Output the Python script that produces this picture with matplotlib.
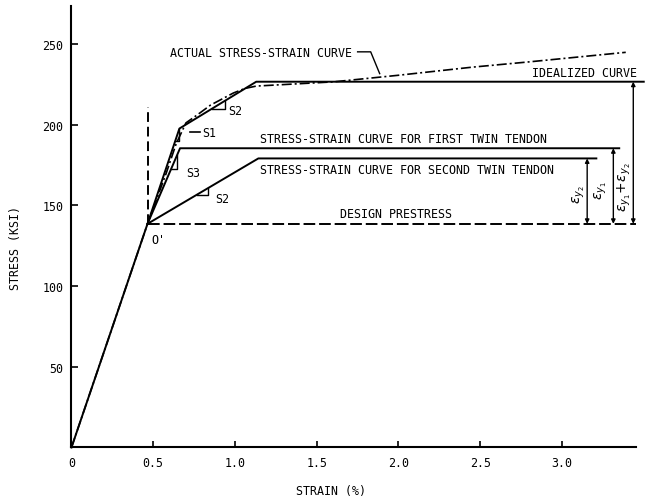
import matplotlib
matplotlib.use("Agg")
import matplotlib.pyplot as plt

# -----------------------------------------
# Data (strain in %, stress in ksi)
# -----------------------------------------

ideal_strain = [0.0, 0.465, 0.66, 1.13, 3.50]
ideal_stress = [0.0, 138.5, 197.5, 226.5, 226.5]

actual_strain = [0.0, 0.465, 0.58, 0.64, 0.70, 0.77, 0.85, 0.99, 1.06, 1.13, 1.40, 1.60, 2.00, 2.45, 2.80, 3.39]
actual_stress = [0.0, 138.5, 170.0, 188.0, 201.0, 206.0, 212.0, 219.5, 222.3, 223.8, 225.3, 226.4, 230.5, 235.5, 238.8, 244.7]

twin1_strain = [0.465, 0.664, 3.35]
twin1_stress = [138.5, 185.3, 185.3]

twin2_strain = [0.465, 1.143, 3.21]
twin2_stress = [138.5, 179.0, 179.0]

prestress_strain = [0.465, 3.45]
prestress_stress = [138.5, 138.5]

x_ticks = [0, 0.5, 1.0, 1.5, 2.0, 2.5, 3.0]
x_tick_labels = ["0", "0.5", "1.0", "1.5", "2.0", "2.5", "3.0"]
y_ticks = [50, 100, 150, 200, 250]
y_tick_labels = ["50", "100", "150", "200", "250"]

plt.rcParams["font.family"] = ["DejaVu Sans Mono", "DejaVu Sans"]
plt.rcParams["mathtext.fontset"] = "dejavusans"

fig = plt.figure(figsize=(6.48, 5.02), dpi=100)
ax = fig.add_axes([0.1103, 0.1066, 0.8897, 0.8795])
ax.set_xlim(0, 3.526)
ax.set_ylim(0, 273.4)

FS = 8.4
LW = 1.4

# -----------------------------------------
# Curves
# -----------------------------------------

ax.plot(ideal_strain, ideal_stress, color="black", lw=LW, clip_on=False)
ax.plot(actual_strain, actual_stress, color="black", lw=1.2,
        linestyle=(0, (6, 1.8, 1.2, 1.8)), clip_on=False)
ax.plot(twin1_strain, twin1_stress, color="black", lw=LW)
ax.plot(twin2_strain, twin2_stress, color="black", lw=LW)
ax.plot(prestress_strain, prestress_stress, color="black", lw=LW,
        linestyle=(0, (6, 2)))

# vertical dashed line at O'
ax.plot([ideal_strain[1], ideal_strain[1]], [ideal_stress[1], 211],
        color="black", lw=LW, linestyle=(0, (5, 2.5)))


# slope triangles placed on a segment
def slope_tri(x0, y0, x1, y1, xa, xb):
    k = (y1 - y0) / (x1 - x0)
    ya = y0 + k * (xa - x0)
    yb = y0 + k * (xb - x0)
    ax.plot([xa, xb, xb], [ya, ya, yb], color="black", lw=1.0)


slope_tri(ideal_strain[2], ideal_stress[2], ideal_strain[3], ideal_stress[3], 0.857, 0.939)
slope_tri(ideal_strain[1], ideal_stress[1], ideal_strain[2], ideal_stress[2], 0.635, 0.66)
slope_tri(twin1_strain[0], twin1_stress[0], twin1_strain[1], twin1_stress[1], 0.61, 0.645)
slope_tri(twin2_strain[0], twin2_stress[0], twin2_strain[1], twin2_stress[1], 0.766, 0.835)

ax.plot([0.725, 0.786], [195.3, 195.3], color="black", lw=1.2)

ax.text(0.957, 208.5, "S2", fontsize=FS, va="center", ha="left")
ax.text(0.80, 195.2, "S1", fontsize=FS, va="center", ha="left")
ax.text(0.70, 170.4, "S3", fontsize=FS, va="center", ha="left")
ax.text(0.878, 153.9, "S2", fontsize=FS, va="center", ha="left")
ax.text(0.49, 129.0, "O'", fontsize=FS, va="center", ha="left")

# -----------------------------------------
# Labels
# -----------------------------------------

ax.text(0.602, 244.9, "ACTUAL STRESS-STRAIN CURVE", fontsize=FS, va="center", ha="left")
ax.plot([1.75, 1.83, 1.885], [245, 245, 231.5], color="black", lw=1.0)
ax.text(3.459, 232.5, "IDEALIZED CURVE", fontsize=FS, va="center", ha="right")
ax.text(1.153, 191.6, "STRESS-STRAIN CURVE FOR FIRST TWIN TENDON", fontsize=FS,
        va="center", ha="left")
ax.text(1.153, 172.4, "STRESS-STRAIN CURVE FOR SECOND TWIN TENDON", fontsize=FS,
        va="center", ha="left")
ax.text(1.642, 144.6, "DESIGN PRESTRESS", fontsize=FS, va="center", ha="left")

# dimension arrows
dims = [
    (3.154, twin2_stress[-1], r"$\varepsilon_{y_2}$", 3.105, 157),
    (3.314, twin1_stress[-1], r"$\varepsilon_{y_1}$", 3.24, 160),
    (3.436, ideal_stress[-1], r"$\varepsilon_{y_1}\!+\!\varepsilon_{y_2}$", 3.383, 162),
]
for xd, ytop, lab, xl, yl in dims:
    ax.annotate("", xy=(xd, ytop), xytext=(xd, prestress_stress[0]),
                arrowprops=dict(arrowstyle="<|-|>", color="black", lw=1.0,
                                mutation_scale=6, shrinkA=0, shrinkB=0),
                annotation_clip=False)
    ax.text(xl, yl, lab, fontsize=10, rotation=90, va="center", ha="center")

# -----------------------------------------
# Axes styling
# -----------------------------------------

for side in ["top", "right"]:
    ax.spines[side].set_visible(False)
ax.spines["left"].set_linewidth(1.5)
ax.spines["bottom"].set_linewidth(1.5)
ax.spines["bottom"].set_bounds(0, 3.45)

ax.set_xticks(x_ticks)
ax.set_xticklabels(x_tick_labels)
ax.set_yticks(y_ticks)
ax.set_yticklabels(y_tick_labels)
ax.tick_params(axis="both", direction="in", width=1.2, labelsize=FS, colors="black")
ax.tick_params(axis="y", length=5, pad=6)
ax.tick_params(axis="x", length=4, pad=6)

ax.set_xlabel("STRAIN (%)", fontsize=FS)
ax.set_ylabel("STRESS (KSI)", fontsize=FS)
ax.xaxis.set_label_coords(0.45, -0.082)
ax.yaxis.set_label_coords(-0.085, 0.454)

fig.savefig("out.png", dpi=100)
